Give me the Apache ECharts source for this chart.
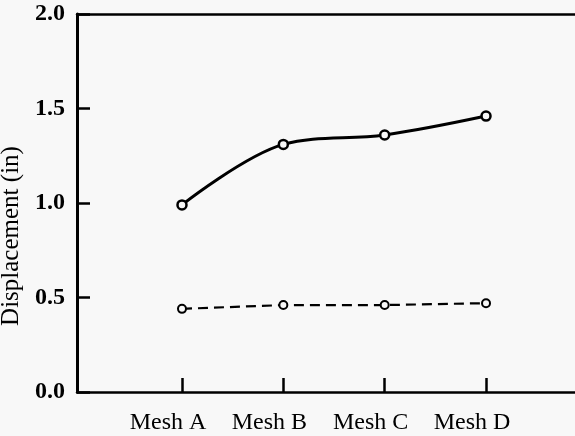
<!DOCTYPE html>
<html>
<head>
<meta charset="utf-8">
<script src="https://cdn.jsdelivr.net/npm/echarts@6/dist/echarts.min.js"></script>
<style>
  html, body { margin: 0; padding: 0; background: #f8f8f8; }
  #chart { width: 575px; height: 436px; }
</style>
</head>
<body>
<div id="chart"></div>
<script>
  // categories along x
  var meshes = ['Mesh A', 'Mesh B', 'Mesh C', 'Mesh D'];
  // displacement values (in)
  var solidLine = [0.99, 1.31, 1.36, 1.46];
  var dashedLine = [0.44, 0.46, 0.46, 0.47];
  var yTicks = [0, 0.5, 1.0, 1.5, 2.0];

  var serif = '"Liberation Serif", "DejaVu Serif", serif';
  var bg = '#f8f8f8';

  var myChart = echarts.init(document.getElementById('chart'));

  function pts(arr) {
    return arr.map(function (v, i) { return [i, v]; });
  }

  var xMin = -1.036, xMax = 3.878;

  myChart.setOption({
    backgroundColor: bg,
    animation: false,
    grid: { left: 77, right: 0, top: 14, bottom: 44, outerBoundsMode: 'none', containLabel: false },
    xAxis: [
      {
        type: 'value',
        min: xMin,
        max: xMax,
        splitLine: { show: false },
        axisLine: { onZero: false, lineStyle: { color: '#000', width: 2.5 } },
        axisTick: {
          inside: true, length: 14, customValues: [0, 1, 2, 3],
          lineStyle: { color: '#000', width: 2.5 }
        },
        axisLabel: {
          customValues: [0, 1, 2, 3],
          formatter: function (v) { return meshes[Math.round(v)]; },
          color: '#000',
          fontFamily: serif,
          fontSize: 24,
          margin: 19,
          padding: [0, 28, 0, 0]
        }
      },
      {
        // top frame line
        type: 'value',
        position: 'top',
        min: xMin,
        max: xMax,
        splitLine: { show: false },
        axisLine: { onZero: false, lineStyle: { color: '#000', width: 2.5 } },
        axisTick: { show: false },
        axisLabel: { show: false }
      }
    ],
    yAxis: {
      type: 'value',
      min: yTicks[0],
      max: yTicks[yTicks.length - 1],
      interval: 0.5,
      name: 'Displacement (in)',
      nameLocation: 'middle',
      nameGap: 53,
      nameTextStyle: {
        color: '#000', fontFamily: serif, fontSize: 25,
        padding: [0, 66, 0, 0]
      },
      splitLine: { show: false },
      axisLine: { onZero: false, lineStyle: { color: '#000', width: 3 } },
      axisTick: { inside: true, length: 13, lineStyle: { color: '#000', width: 2.5 } },
      axisLabel: {
        color: '#000',
        fontFamily: serif,
        fontSize: 24,
        fontWeight: 'bold',
        margin: 12,
        formatter: function (v) { return v.toFixed(1); }
      }
    },
    series: [
      {
        type: 'line',
        data: pts(solidLine),
        smooth: 0.35,
        symbol: 'circle',
        symbolSize: 9,
        lineStyle: { color: '#000', width: 3 },
        itemStyle: { color: bg, borderColor: '#000', borderWidth: 2.5 },
        z: 3
      },
      {
        type: 'line',
        data: pts(dashedLine),
        symbol: 'circle',
        symbolSize: 8,
        lineStyle: { color: '#000', width: 2.2, type: [10, 6] },
        itemStyle: { color: bg, borderColor: '#000', borderWidth: 2 },
        z: 3
      }
    ]
  });
</script>
</body>
</html>
